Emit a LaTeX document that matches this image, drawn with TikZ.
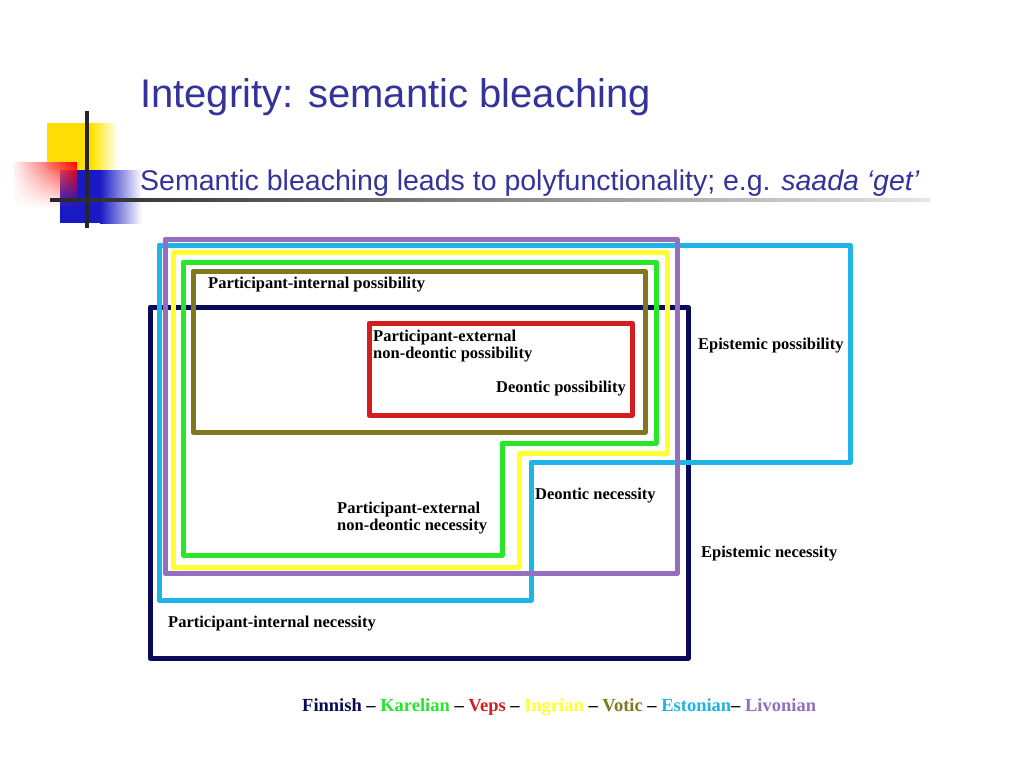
\documentclass[tikz,border=0pt]{standalone}
\usepackage{fontspec}
\setmainfont{Liberation Serif}
\newfontfamily\slidefont{Liberation Sans}
\usepackage{tikz}
\usetikzlibrary{fadings}

\definecolor{titleblue}{RGB}{51,51,153}
\definecolor{finnish}{RGB}{10,10,90}
\definecolor{karelian}{RGB}{40,230,40}
\definecolor{veps}{RGB}{210,30,30}
\definecolor{ingrian}{RGB}{255,255,50}
\definecolor{votic}{RGB}{128,120,30}
\definecolor{estonian}{RGB}{30,180,230}
\definecolor{livonian}{RGB}{150,110,190}

\begin{document}
\begin{tikzpicture}[x=1pt,y=-1pt,
  box/.style={line width=5pt,line join=round},
  lbl/.style={anchor=west,align=left,inner sep=0pt,font=\bfseries\fontsize{16.5}{17.5}\selectfont}]
\useasboundingbox[fill=white] (0,0) rectangle (1024,768);
% corner ornament
\fill[yellow!80!orange] (47,123) rectangle (92,170);
\shade[left color=yellow!80!orange,right color=white] (92,123) rectangle (118,170);
\fill[blue!75!black!90] (60,170) rectangle (100,223);
\shade[left color=blue!75!black!90,right color=white] (100,170) rectangle (142,223);
\shade[left color=red!5,right color=red,path fading=south] (14,162) rectangle (77,208);
\draw[line width=4pt,black!85] (87,111) -- (87,228);
\shade[left color=black!85,right color=black!10] (50,198.5) rectangle (930,201.5);
% titles
\node[anchor=base west,inner sep=0pt,text=titleblue,font=\slidefont\fontsize{40}{44}\selectfont] (title) at (140,107) {Integrity: semantic bleaching};
\node[anchor=base west,inner sep=0pt,text=titleblue,font=\slidefont\fontsize{28.5}{32}\selectfont] (subtitle) at (140,190) {Semantic bleaching leads to polyfunctionality; e.g. \textit{saada ‘get’}};
% boxes
\draw[box,finnish] (150,307) rectangle (688,658);
\draw[box,estonian] (159,245) -- (850,245) -- (850,462) -- (531,462) -- (531,600) -- (159,600) -- cycle;
\draw[box,livonian] (165,239) rectangle (677,573);
\draw[box,ingrian] (173,252) -- (667,252) -- (667,453) -- (519,453) -- (519,567) -- (173,567) -- cycle;
\draw[box,karelian] (183,262) -- (656,262) -- (656,443) -- (502,443) -- (502,555) -- (183,555) -- cycle;
\draw[box,votic] (193,271) rectangle (645,432);
\draw[box,veps] (369,323) rectangle (632,415);
% labels
\node[lbl] (pip) at (208,285) {Participant-internal possibility};
\node[lbl] (pep) at (373,346) {Participant-external\\non-deontic possibility};
\node[lbl,anchor=east] (dp) at (626,389) {Deontic possibility};
\node[lbl] (ep) at (698,346) {Epistemic possibility};
\node[lbl] (dn) at (535,496) {Deontic necessity};
\node[lbl] (pen) at (337,518) {Participant-external\\non-deontic necessity};
\node[lbl] (en) at (701,554) {Epistemic necessity};
\node[lbl] (pin) at (168,624) {Participant-internal necessity};
% legend
\node[lbl,anchor=west,font=\bfseries\fontsize{18.5}{20}\selectfont] (legend) at (302,707)
  {\textcolor{finnish}{Finnish} -- \textcolor{karelian}{Karelian} -- \textcolor{veps}{Veps} -- \textcolor{ingrian}{Ingrian} -- \textcolor{votic}{Votic} -- \textcolor{estonian}{Estonian}-- \textcolor{livonian}{Livonian}};
\end{tikzpicture}
\end{document}
